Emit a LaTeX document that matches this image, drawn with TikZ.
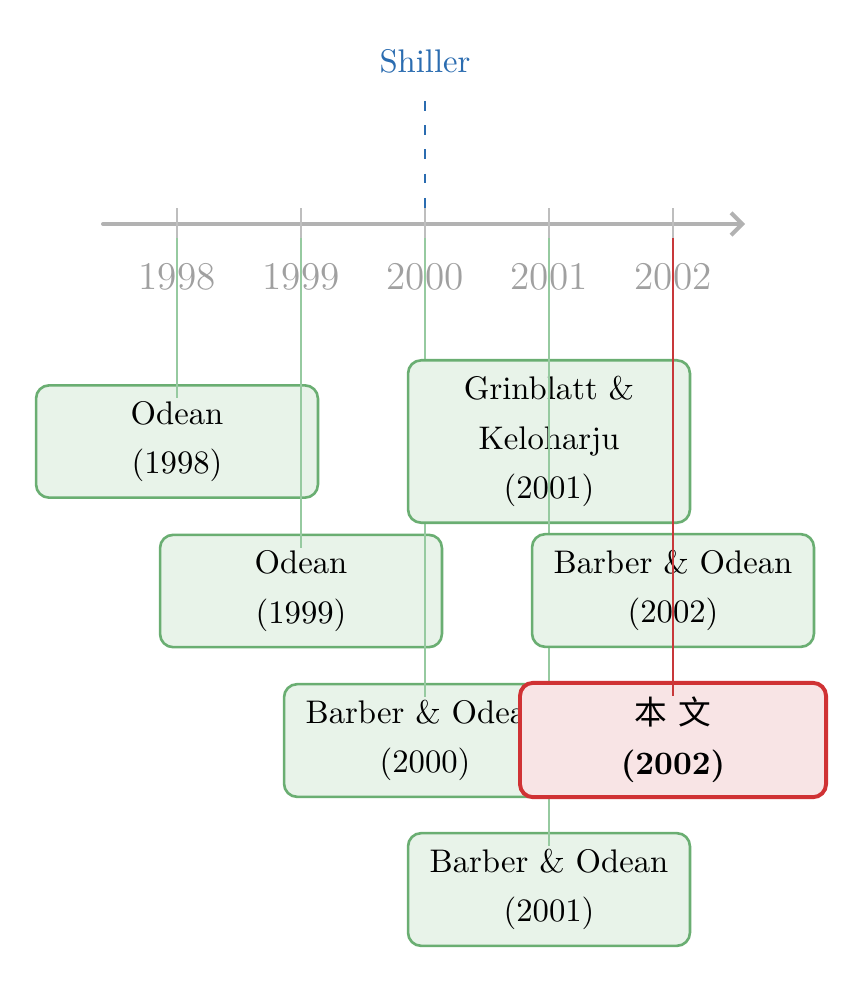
\documentclass[tikz,border=0pt]{standalone}
\usepackage{fontspec}
\newfontfamily\cjk{Noto Sans CJK SC}
\usetikzlibrary{arrows.meta}
\definecolor{axisgray}{RGB}{178,178,178}
\definecolor{tickgray}{RGB}{190,190,190}
\definecolor{yeargray}{RGB}{160,160,160}
\definecolor{gline}{RGB}{150,202,160}
\definecolor{gborder}{RGB}{106,174,114}
\definecolor{gfill}{RGB}{232,243,233}
\definecolor{rborder}{RGB}{208,50,52}
\definecolor{rfill}{RGB}{248,228,229}
\definecolor{rline}{RGB}{200,56,58}
\definecolor{sblue}{RGB}{43,108,176}
\begin{document}
\begin{tikzpicture}[x=0.3058pt,y=-0.3058pt,
  axisline/.style={draw=axisgray,line width=1.2pt,line cap=round,-{Straight Barb[length=3.4pt,width=6.8pt]}},
  tickline/.style={draw=tickgray,line width=0.5pt},
  yearlabel/.style={text=yeargray,font=\large,inner sep=0pt},
  paper/.style={draw=gborder,fill=gfill,line width=0.8pt,rounded corners=4pt,
    text width=86.2pt,inner xsep=0pt,inner ysep=4.8pt,align=center,
    font=\fontsize{10}{15.2}\selectfont},
  mine/.style={paper,draw=rborder,fill=rfill,line width=1.2pt,text width=93.6pt,inner ysep=4.4pt},
  conn/.style={draw=gline,line width=0.6pt},
  mineconn/.style={draw=rline,line width=0.6pt},
  shillerlabel/.style={text=sblue,inner sep=0pt},
  shillerline/.style={draw=sblue,line width=0.6pt,dash pattern=on 3pt off 4.4pt}
]
\useasboundingbox (0,0) rectangle (863,983);

% axis
\coordinate (axs) at (103,224);
\coordinate (axe) at (745,224);
\draw[axisline] (axs) -- (axe);

% ticks, labels, connector start points
\foreach \yr/\xx in {1998/177,1999/301,2000/425,2001/549,2002/673}{
  \coordinate (tt\yr) at (\xx,208);
  \coordinate (tb\yr) at (\xx,240);
  \draw[tickline] (tt\yr) -- (tb\yr);
  \node[yearlabel] (y\yr) at (\xx,277) {\yr};
  \coordinate (c\yr) at (\xx,238);
}

% Shiller
\node[shillerlabel] (shl) at (425,61) {Shiller};
\coordinate (sht) at (425,101);
\coordinate (shb) at (425,210);
\draw[shillerline] (sht) -- (shb);

% papers (box then connector, in order)
\node[paper] (o98) at (177,441.5) {Odean\\(1998)};
\draw[conn] (c1998) -- ([yshift=-4.3pt]o98.north);

\node[paper] (o99) at (301,591) {Odean\\(1999)};
\draw[conn] (c1999) -- ([yshift=-4.3pt]o99.north);

\node[paper] (bo00) at (425,740.5) {Barber \& Odean\\(2000)};
\draw[conn] (c2000) -- ([yshift=-4.3pt]bo00.north);

\node[paper] (gk01) at (549,441.5) {Grinblatt \&\\Keloharju\\(2001)};
\draw[conn] (c2001) -- ([yshift=-4.3pt]gk01.north);

\node[paper] (bo01) at (549,889.5) {Barber \& Odean\\(2001)};
\draw[conn] (c2001) -- ([yshift=-4.3pt]bo01.north);

\node[paper] (bo02) at (673,590.5) {Barber \& Odean\\(2002)};
\draw[conn] (c2002) -- ([yshift=-4.3pt]bo02.north);

\node[mine] (me) at (673,740) {{\cjk 本 文}\\\textbf{(2002)}};
\draw[mineconn] (c2002) -- ([yshift=-4.6pt]me.north);
\end{tikzpicture}
\end{document}
